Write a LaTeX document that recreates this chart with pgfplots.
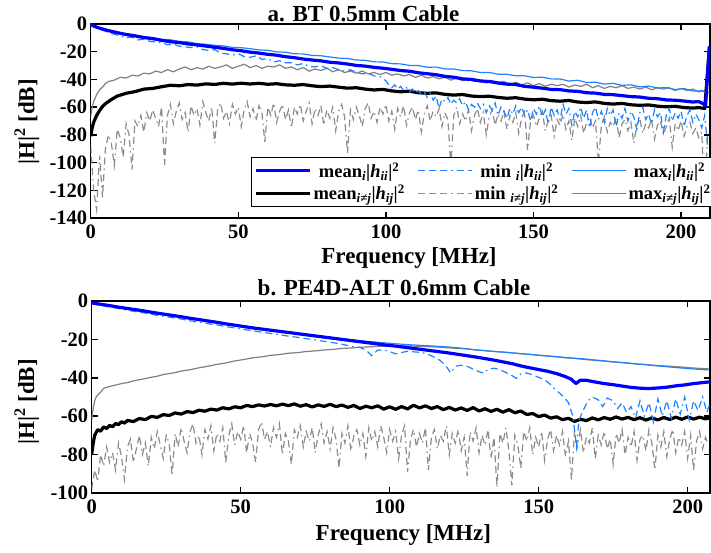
\documentclass[border=0pt]{standalone}
\usepackage{fontspec}
\setmainfont{Liberation Serif}
\usepackage{pgfplots}
\pgfplotsset{compat=1.18}
\definecolor{mblue}{RGB}{0,0,255}
\definecolor{lblue}{RGB}{30,130,255}
\definecolor{mgray}{RGB}{128,128,128}
\definecolor{dgray}{RGB}{140,140,140}
\pgfplotsset{
  meanii/.style={mblue, line width=3.2pt, line join=round, mark=none},
  minii/.style={lblue, line width=1.2pt, mark=none, dash pattern=on 7pt off 4pt on 7pt off 4pt on 7pt off 4pt on 1.5pt off 4pt},
  maxii/.style={lblue, line width=1.2pt, mark=none},
  meanij/.style={black, line width=3.2pt, line join=round, mark=none},
  minij/.style={dgray, line width=1.2pt, mark=none, dash pattern=on 7pt off 4pt on 7pt off 4pt on 7pt off 4pt on 1.5pt off 4pt},
  maxij/.style={mgray, line width=1.2pt, mark=none},
  myax/.style={scale only axis, anchor=south west, xmin=0, ymax=0,
    axis line style={line width=1.5pt}, tick style={black, line width=1.5pt},
    major tick length=6pt, tick align=inside,
    xtick={0,50,100,150,200}, xticklabels={0,50,100,150,200},
    tick label style={font=\bfseries\fontsize{20.5}{24}\selectfont},
    xticklabel shift=3pt,
    label style={font=\bfseries\fontsize{23}{27}\selectfont},
    title style={font=\bfseries\fontsize{23}{27}\selectfont, anchor=center},
    xlabel={Frequency [MHz]},
    ylabel={|H|\textsuperscript{2} [dB]},
    legend image code/.code={\draw[##1] (0pt,0pt) -- (54pt,0pt);},
  }
}
\begin{document}
\begin{tikzpicture}
\useasboundingbox (0,0) rectangle (711pt,552pt);
% ---------------- top axis ----------------
\begin{axis}[myax, at={(90.7pt,334pt)}, width=619.3pt, height=194pt,
  xmax=209.8, ymin=-140,
  ytick={-140,-120,-100,-80,-60,-40,-20,0},
  yticklabels={-140,-120,-100,-80,-60,-40,-20,0},
  title={a. BT 0.5mm Cable},
  title style={at={(axis description cs:0.4405,1.024)}},
  xlabel style={at={(axis description cs:0.514,-0.206)}, anchor=center},
  ylabel style={at={(axis description cs:-0.103,0.495)}, anchor=center},
  legend columns=3,
  legend style={at={(axis description cs:0.2584,0.3144)}, anchor=north west,
    draw=black, line width=1.3pt, fill=white, inner sep=3pt, row sep=2pt,
    font=\bfseries\fontsize{18.5}{21}\selectfont,
    /tikz/every even column/.append style={column sep=11pt}},
]
\addlegendimage{meanii}
\addlegendentry{mean\textsubscript{\textit{i}}|\textit{h}\textsubscript{\textit{ii}}|\textsuperscript{2}}
\addlegendimage{minii}
\addlegendentry{min \textsubscript{\textit{i}}|\textit{h}\textsubscript{\textit{ii}}|\textsuperscript{2}}
\addlegendimage{maxii}
\addlegendentry{max\textsubscript{\textit{i}}|\textit{h}\textsubscript{\textit{ii}}|\textsuperscript{2}}
\addlegendimage{meanij}
\addlegendentry{mean\textsubscript{\textit{i≠j}}|\textit{h}\textsubscript{\textit{ij}}|\textsuperscript{2}}
\addlegendimage{minij}
\addlegendentry{min \textsubscript{\textit{i≠j}}|\textit{h}\textsubscript{\textit{ij}}|\textsuperscript{2}}
\addlegendimage{maxij}
\addlegendentry{max\textsubscript{\textit{i≠j}}|\textit{h}\textsubscript{\textit{ij}}|\textsuperscript{2}}
% min_ij
\addplot[minij, forget plot] coordinates {(0,-88)(1,-120)(2,-134)(3,-95)(4,-125)(5,-90)(6,-80)(7,-86)(8,-102)(9,-76)(10,-82)(11,-96)(12,-72)(13,-80)(14,-105)(15,-70)(16,-74)(17,-66)(18,-78)(19,-64)(20,-70)(21,-62)(22,-68)(23,-74)(24,-60)(25,-102)(26,-66)(27,-58)(28,-72)(29,-63)(30,-57)(31,-69)(32,-64)(33,-78)(34,-59)(35,-66)(36,-61)(37,-73)(38,-56)(39,-64)(40,-70)(41,-60)(42,-86)(43,-62)(44,-57)(45,-68)(46,-63)(47,-72)(48,-58)(49,-65)(50,-60)(51,-74)(52,-62)(53,-56)(54,-67)(55,-61)(56,-70)(57,-59)(58,-64)(59,-85)(60,-60)(61,-66)(62,-57)(63,-71)(64,-63)(65,-58)(66,-69)(67,-62)(68,-75)(69,-60)(70,-65)(71,-58)(72,-70)(73,-63)(74,-57)(75,-72)(76,-61)(77,-66)(78,-59)(79,-73)(80,-62)(81,-68)(82,-60)(83,-77)(84,-63)(85,-58)(86,-67)(87,-93)(88,-62)(89,-69)(90,-60)(91,-66)(92,-74)(93,-61)(94,-57)(95,-68)(96,-63)(97,-71)(98,-60)(99,-65)(100,-58)(101,-70)(102,-63)(103,-76)(104,-61)(105,-67)(106,-59)(107,-73)(108,-64)(109,-60)(110,-69)(111,-62)(112,-78)(113,-65)(114,-59)(115,-70)(116,-63)(117,-67)(118,-61)(119,-74)(120,-64)(121,-69)(122,-102)(123,-66)(124,-60)(125,-72)(126,-65)(127,-70)(128,-62)(129,-77)(130,-66)(131,-61)(132,-71)(133,-64)(134,-80)(135,-67)(136,-62)(137,-73)(138,-65)(139,-70)(140,-63)(141,-76)(142,-66)(143,-71)(144,-64)(145,-79)(146,-68)(147,-63)(148,-91)(149,-70)(150,-66)(151,-74)(152,-68)(153,-63)(154,-77)(155,-70)(156,-66)(157,-81)(158,-69)(159,-73)(160,-65)(161,-76)(162,-70)(163,-84)(164,-68)(165,-74)(166,-66)(167,-79)(168,-71)(169,-67)(170,-75)(171,-70)(172,-100)(173,-73)(174,-67)(175,-78)(176,-71)(177,-74)(178,-68)(179,-82)(180,-72)(181,-69)(182,-77)(183,-71)(184,-86)(185,-73)(186,-68)(187,-79)(188,-72)(189,-75)(190,-69)(191,-83)(192,-73)(193,-70)(194,-80)(195,-74)(196,-68)(197,-89)(198,-72)(199,-77)(200,-70)(201,-81)(202,-74)(203,-71)(204,-79)(205,-75)(206,-82)(207,-78)(208,-125)(209,-80)};
% max_ij
\addplot[maxij, forget plot] coordinates {(0,-67)(0.5,-60)(1,-56)(2,-51)(3,-47.5)(4,-45.5)(5,-43)(6,-41.5)(8,-40.5)(10,-38.5)(12,-39)(14,-37)(16,-37.5)(18,-35.5)(20,-36)(22,-34)(24,-35)(26,-33)(28,-34.5)(30,-32.5)(32,-31)(34,-33)(36,-31.5)(38,-32.5)(40,-30.5)(42,-32)(44,-31)(46,-29.5)(48,-32)(50,-30.5)(52,-29)(54,-31.5)(56,-30)(58,-32)(60,-30.5)(62,-31)(64,-29.5)(66,-32)(68,-31)(70,-33)(72,-31.5)(74,-34)(76,-32.5)(78,-33.5)(80,-32)(82,-34.5)(84,-33)(86,-35)(88,-34)(90,-35.5)(92,-34)(94,-36)(96,-35)(98,-36.5)(100,-35)(102,-37)(104,-36)(106,-37.5)(108,-36.5)(110,-38.5)(112,-37)(114,-39)(116,-38)(118,-39.5)(120,-38.5)(122,-40.5)(124,-39)(126,-41)(128,-40)(130,-41.5)(132,-40.5)(134,-42.5)(136,-41)(138,-42)(140,-41.5)(142,-43.5)(144,-42)(146,-44)(148,-42.5)(150,-44.5)(152,-43)(154,-45)(156,-43.5)(158,-44.5)(160,-43.5)(162,-45.5)(164,-44)(166,-45)(168,-43.5)(170,-46)(172,-44.5)(174,-46.5)(176,-45)(178,-46)(180,-44.5)(182,-46.5)(184,-45.5)(186,-47)(188,-45.5)(190,-47.5)(192,-46)(194,-47)(196,-46)(198,-48)(200,-46.5)(202,-48)(204,-47)(206,-49)(208,-48)(209.6,-50)};
% mean_ij
\addplot[meanij, forget plot] coordinates {(0,-81)(0.5,-75)(1,-71)(2,-66)(3,-62.5)(4,-59.5)(5,-57.5)(7,-54.5)(9,-52)(12,-50)(15,-48.8)(18,-47)(21,-46.5)(24,-45.3)(27,-44.2)(30,-44.6)(33,-43.7)(36,-44.1)(39,-43.2)(42,-43.6)(45,-42.8)(48,-43.4)(51,-42.7)(54,-43.3)(57,-42.8)(60,-43.5)(63,-43.1)(66,-43.9)(69,-44.2)(72,-43.7)(75,-44.6)(78,-45.2)(81,-44.8)(84,-45.6)(87,-46.3)(90,-46)(93,-47)(96,-47.6)(99,-47.2)(102,-48.3)(105,-48.9)(108,-48.5)(111,-49.6)(114,-50)(117,-49.7)(120,-50.8)(123,-51.3)(126,-50.9)(129,-52)(132,-52.4)(135,-52.1)(138,-53)(141,-53.6)(144,-53.2)(147,-54.2)(150,-54.7)(153,-54.3)(156,-55.3)(159,-55.7)(162,-55.2)(165,-56.3)(168,-56.7)(171,-56.2)(174,-57.3)(177,-57.8)(180,-57.3)(183,-58.3)(186,-58.7)(189,-58.4)(192,-59.3)(195,-59.8)(198,-59.4)(201,-60.3)(204,-60.7)(206,-60.3)(208,-61)(209.6,-17)};
% min_ii
\addplot[minii, forget plot] coordinates {(0,-1)(2,-3)(4,-4.5)(6,-6)(8,-7.5)(10,-8.5)(12,-10)(14,-9.5)(16,-11.5)(18,-11)(20,-12.5)(22,-13)(24,-13.5)(26,-15)(28,-14.5)(30,-16)(32,-16.5)(34,-17)(36,-16.5)(38,-18.5)(40,-19)(42,-18.5)(44,-21)(46,-21.5)(48,-22.5)(50,-21.5)(52,-23.5)(54,-24)(56,-23)(58,-25.5)(60,-25)(62,-27.5)(64,-26.5)(66,-28)(68,-28)(70,-29.5)(72,-28.5)(74,-30.5)(76,-31)(78,-30)(80,-32)(82,-31.5)(84,-33)(86,-34)(88,-33)(90,-35)(92,-36)(94,-35.5)(96,-37.5)(98,-38)(100,-41)(101,-44)(102,-46)(103,-44)(104,-47)(105,-45)(106,-48)(107,-46)(108,-49)(109,-47)(110,-50)(111,-48)(112,-51)(113,-49)(114,-53)(115,-50)(116,-55)(117,-52)(118,-61)(119,-54)(120,-56)(121,-53)(122,-58)(123,-55)(124,-57)(125,-54)(126,-59)(127,-56)(128,-62)(129,-58)(130,-60)(131,-57)(132,-61)(133,-58)(134,-64)(135,-59)(136,-62)(137,-57)(138,-66)(139,-60)(140,-63)(141,-68)(142,-61)(143,-65)(144,-59)(145,-64)(146,-60)(147,-66)(148,-62)(149,-70)(150,-61)(151,-65)(152,-59)(153,-67)(154,-62)(155,-72)(156,-60)(157,-66)(158,-62)(159,-69)(160,-58)(161,-65)(162,-61)(163,-73)(164,-63)(165,-67)(166,-60)(167,-68)(168,-62)(169,-75)(170,-64)(171,-60)(172,-69)(173,-63)(174,-71)(175,-61)(176,-66)(177,-62)(178,-74)(179,-64)(180,-68)(181,-61)(182,-70)(183,-63)(184,-67)(185,-76)(186,-64)(187,-60)(188,-69)(189,-65)(190,-72)(191,-62)(192,-67)(193,-64)(194,-78)(195,-66)(196,-61)(197,-70)(198,-64)(199,-68)(200,-63)(201,-74)(202,-66)(203,-62)(204,-71)(205,-65)(206,-69)(207,-75)(208,-66)(209,-88)};
% max_ii
\addplot[maxii, forget plot] coordinates {(0,0)(1,-1.2)(3,-2.6)(6,-4.3)(9,-5.8)(12,-7)(15,-7.9)(18,-9.1)(21,-9.8)(24,-11)(27,-11.4)(30,-12.6)(33,-12.9)(36,-14.2)(39,-14.6)(42,-15.4)(45,-15.8)(48,-16.9)(51,-17.1)(54,-17.8)(57,-18.7)(60,-19)(63,-20.1)(66,-20.4)(69,-21.5)(72,-21.6)(75,-22.7)(78,-22.9)(81,-23.8)(84,-24.6)(87,-24.9)(90,-26)(93,-26.2)(96,-27.3)(99,-27.4)(102,-28.6)(105,-28.8)(108,-29.9)(111,-30)(114,-31.2)(117,-31.1)(120,-32.4)(123,-32.5)(126,-33.6)(129,-33.8)(132,-35)(135,-35)(138,-36.2)(141,-36.3)(144,-37.4)(147,-37.4)(150,-38.6)(153,-38.4)(156,-39.6)(159,-39.7)(162,-41.2)(165,-40.6)(168,-42.2)(171,-42)(174,-43.4)(177,-42.8)(180,-44.3)(183,-43.9)(186,-45.4)(189,-44.8)(192,-46.2)(195,-45.9)(198,-47.3)(201,-46.6)(204,-48.4)(207,-48.2)(209,-49.5)};
% mean_ii
\addplot[meanii, forget plot] coordinates {(0,0)(1,-1.5)(3,-3)(6,-4.8)(9,-6.3)(12,-7.6)(15,-8.6)(18,-9.8)(21,-10.6)(24,-11.8)(27,-12.8)(30,-13.4)(33,-14.4)(36,-15.1)(39,-15.9)(42,-16.8)(45,-17.6)(48,-18.6)(51,-19.3)(54,-20.3)(57,-21)(60,-21.9)(63,-22.5)(66,-23.6)(69,-24.3)(72,-25.3)(75,-26)(78,-26.6)(81,-27.6)(84,-28.1)(87,-28.9)(90,-29.9)(93,-30.4)(96,-31.3)(99,-31.9)(102,-32.7)(105,-33.6)(108,-34.1)(111,-35.2)(114,-35.9)(117,-36.6)(120,-37.8)(123,-38.4)(126,-39.6)(129,-40)(132,-41.1)(135,-41.5)(138,-42.6)(141,-43.4)(144,-43.7)(147,-45)(150,-45.6)(153,-46.3)(156,-47.2)(159,-47.4)(162,-48.3)(165,-48.6)(168,-49.6)(171,-49.9)(174,-50.8)(177,-51)(180,-51.7)(183,-52.4)(186,-52.7)(189,-53.6)(192,-53.9)(195,-54.8)(198,-55)(201,-55.6)(204,-56.3)(206,-56)(207.5,-57.5)(208.3,-59)(209.6,-16)};
\end{axis}
% ---------------- bottom axis ----------------
\begin{axis}[myax, at={(91.7pt,59pt)}, width=618.3pt, height=192pt,
  xmax=207.5, ymin=-100,
  ytick={-100,-80,-60,-40,-20,0},
  yticklabels={-100,-80,-60,-40,-20,0},
  title={b. PE4D-ALT 0.6mm Cable},
  title style={at={(axis description cs:0.489,1.038)}},
  xlabel style={at={(axis description cs:0.504,-0.219)}, anchor=center},
  ylabel style={at={(axis description cs:-0.105,0.474)}, anchor=center},
]
% min_ij
\addplot[minij] coordinates {(0,-98)(1,-88)(2,-94)(3,-80)(4,-86)(5,-76)(6,-84)(7,-79)(8,-88)(9,-74)(10,-81)(11,-93)(12,-76)(13,-72)(14,-84)(15,-77)(16,-70)(17,-80)(18,-74)(19,-86)(20,-71)(21,-77)(22,-68)(23,-75)(24,-82)(25,-70)(26,-74)(27,-91)(28,-69)(29,-76)(30,-66)(31,-73)(32,-79)(33,-68)(34,-64)(35,-74)(36,-70)(37,-80)(38,-67)(39,-72)(40,-65)(41,-78)(42,-69)(43,-73)(44,-66)(45,-84)(46,-70)(47,-64)(48,-75)(49,-68)(50,-72)(51,-65)(52,-79)(53,-69)(54,-74)(55,-84)(56,-67)(57,-63)(58,-72)(59,-68)(60,-76)(61,-66)(62,-71)(63,-64)(64,-80)(65,-69)(66,-73)(67,-85)(68,-67)(69,-71)(70,-65)(71,-76)(72,-68)(73,-73)(74,-66)(75,-79)(76,-70)(77,-64)(78,-74)(79,-68)(80,-77)(81,-66)(82,-72)(83,-87)(84,-69)(85,-74)(86,-65)(87,-78)(88,-70)(89,-67)(90,-75)(91,-69)(92,-81)(93,-66)(94,-73)(95,-68)(96,-76)(97,-65)(98,-71)(99,-79)(100,-67)(101,-73)(102,-68)(103,-82)(104,-70)(105,-65)(106,-89)(107,-72)(108,-67)(109,-76)(110,-69)(111,-74)(112,-66)(113,-88)(114,-71)(115,-67)(116,-77)(117,-70)(118,-73)(119,-65)(120,-80)(121,-69)(122,-74)(123,-67)(124,-78)(125,-71)(126,-91)(127,-68)(128,-73)(129,-66)(130,-79)(131,-70)(132,-75)(133,-67)(134,-82)(135,-71)(136,-97)(137,-69)(138,-74)(139,-66)(140,-78)(141,-96)(142,-70)(143,-75)(144,-87)(145,-68)(146,-73)(147,-66)(148,-80)(149,-71)(150,-76)(151,-68)(152,-83)(153,-72)(154,-67)(155,-78)(156,-70)(157,-75)(158,-68)(159,-81)(160,-73)(161,-93)(162,-69)(163,-76)(164,-67)(165,-79)(166,-71)(167,-74)(168,-66)(169,-82)(170,-70)(171,-75)(172,-68)(173,-77)(174,-72)(175,-85)(176,-69)(177,-74)(178,-67)(179,-80)(180,-71)(181,-76)(182,-68)(183,-83)(184,-72)(185,-70)(186,-78)(187,-67)(188,-74)(189,-88)(190,-70)(191,-76)(192,-68)(193,-81)(194,-72)(195,-67)(196,-79)(197,-71)(198,-75)(199,-68)(200,-82)(201,-70)(202,-88)(203,-73)(204,-68)(205,-77)(206,-71)(207,-75)};
% max_ij
\addplot[maxij] coordinates {(0,-62)(0.5,-56)(1,-52)(1.5,-50)(2,-49)(3,-47.5)(4,-45.5)(6,-44.5)(8,-43.8)(10,-43)(12,-42.5)(14,-41.6)(16,-41)(18,-40.4)(20,-39.7)(22,-39.2)(24,-38.3)(26,-37.8)(28,-37.3)(30,-36.5)(33,-35.8)(36,-34.8)(39,-34)(42,-33)(45,-32.3)(48,-31.2)(51,-30.5)(54,-29.6)(57,-29.1)(60,-28.3)(63,-27.9)(66,-27.2)(69,-26.9)(72,-26.3)(75,-26)(78,-25.5)(81,-25.2)(84,-24.7)(87,-24.5)(90,-24.1)(93,-23.9)(96,-23.6)(99,-23.5)(102,-23.3)(105,-23.4)(108,-23.5)(111,-23.7)(114,-23.8)(117,-24.1)(120,-24.4)(123,-24.7)(126,-25)(129,-25.5)(132,-25.8)(135,-26.3)(138,-26.6)(141,-27)(144,-27.5)(147,-27.8)(150,-28.3)(153,-28.7)(156,-29.1)(159,-29.6)(162,-29.9)(165,-30.4)(168,-30.8)(171,-31.2)(174,-31.6)(177,-32)(180,-32.4)(183,-32.8)(186,-33.1)(189,-33.5)(192,-33.8)(195,-34.1)(198,-34.4)(201,-34.8)(204,-35.1)(207,-35.3)};
% mean_ij
\addplot[meanij] coordinates {(0,-80)(0.5,-74)(1,-70)(1.5,-68.5)(2,-67)(3,-67.8)(4,-65.6)(5,-66.4)(6,-64.8)(7,-65.5)(8,-63.8)(9,-64.4)(10,-62.9)(11,-63.6)(12,-62.2)(14,-62.8)(16,-61.2)(18,-61.8)(20,-60.1)(22,-60.6)(24,-59.2)(26,-59.6)(28,-58.3)(30,-58.9)(32,-57.6)(34,-58.1)(36,-56.9)(38,-57.4)(40,-56.3)(42,-56.8)(44,-55.6)(46,-56.2)(48,-55.1)(50,-55.6)(52,-54.4)(54,-55)(56,-54.1)(58,-54.7)(60,-53.9)(62,-54.6)(64,-53.7)(66,-54.5)(68,-53.6)(70,-54.8)(72,-54)(74,-55.2)(76,-54.1)(78,-54.9)(80,-53.8)(82,-55)(84,-54.2)(86,-55.4)(88,-54.4)(90,-56)(92,-54.8)(94,-55.6)(96,-54.6)(98,-56.3)(100,-55.1)(102,-56.4)(104,-55)(106,-56.2)(108,-54.3)(110,-55.7)(112,-54.6)(114,-56)(116,-55)(118,-56.6)(120,-55.4)(122,-56.8)(124,-55.7)(126,-57)(128,-55.5)(130,-57.3)(132,-56.1)(134,-57.5)(136,-56.4)(138,-57.9)(140,-56.6)(142,-58.2)(144,-57.3)(146,-59.1)(148,-58.6)(150,-60.2)(152,-59.4)(154,-61)(156,-60.3)(158,-61.8)(160,-61.1)(162,-62.7)(164,-61.6)(166,-62.3)(168,-60.9)(170,-61.9)(172,-60.7)(174,-61.6)(176,-60.4)(178,-61.5)(180,-60.6)(182,-61.8)(184,-60.8)(186,-62)(188,-60.9)(190,-61.9)(192,-60.7)(194,-61.7)(196,-60.5)(198,-61.6)(200,-60.4)(202,-61.5)(204,-60.5)(206,-61.4)(207.5,-60.8)};
% min_ii
\addplot[minii] coordinates {(0,-1.5)(3,-2.3)(6,-3.1)(9,-3.9)(12,-4.8)(15,-5.6)(18,-6.3)(21,-7.2)(24,-7.9)(27,-8.7)(30,-9.4)(33,-10.3)(36,-11)(39,-11.8)(42,-12.5)(45,-13.3)(48,-14)(51,-14.8)(54,-15.5)(57,-16.2)(60,-16.9)(63,-17.6)(66,-18.3)(69,-18.9)(72,-19.6)(75,-20.3)(78,-21)(81,-21.7)(84,-22.5)(87,-23.6)(90,-24.2)(92,-25.5)(94,-28.5)(96,-25.5)(99,-25.8)(102,-27.5)(104,-26.8)(106,-26.2)(109,-26.6)(111,-26.8)(114,-28.5)(117,-31)(119,-34)(120.5,-37.5)(122,-34)(124,-33.5)(126,-34)(128,-35.5)(130,-36.8)(131.6,-37.7)(133,-35.5)(135,-35)(137,-35.8)(139,-37.2)(141,-38.8)(142.5,-40.3)(144,-38)(146,-37.5)(148,-38.5)(150,-39.8)(152,-41)(154,-43.5)(155.5,-46)(157,-48)(158.5,-50)(160,-53)(161.5,-60)(162.7,-76)(163.5,-62)(165,-56.8)(166.5,-52)(168,-50)(170,-51.5)(171.5,-55)(173,-50.5)(175,-52)(176.5,-56)(178,-53)(179.5,-58)(181,-55)(182.5,-61)(184,-52)(185.5,-60)(187,-53)(188.5,-63)(190,-51)(191.5,-60)(193,-52)(194.5,-61)(196,-51)(197.5,-59)(199,-50)(200.5,-62)(202,-52)(203.5,-57)(205,-50)(206.5,-58)(207.5,-53)};
% max_ii
\addplot[maxii] coordinates {(0,-0.8)(3,-1.5)(6,-2.2)(9,-2.9)(12,-3.6)(15,-4.3)(18,-5)(21,-5.8)(24,-6.5)(27,-7.2)(30,-7.9)(33,-8.7)(36,-9.4)(39,-10.1)(42,-10.8)(45,-11.6)(48,-12.3)(51,-13)(54,-13.7)(57,-14.3)(60,-14.9)(63,-15.5)(66,-16.1)(69,-16.7)(72,-17.3)(75,-17.9)(78,-18.5)(81,-19.1)(84,-19.7)(87,-20.2)(90,-20.7)(93,-21.1)(96,-21.5)(99,-21.9)(102,-22.3)(105,-22.6)(108,-22.9)(111,-23.2)(114,-23.4)(117,-23.7)(120,-24)(123,-24.4)(126,-24.9)(129,-25.5)(132,-25.9)(135,-26.3)(138,-26.6)(141,-27)(144,-27.4)(147,-27.8)(150,-28.2)(153,-28.6)(156,-29)(159,-29.4)(162,-29.8)(165,-30.1)(168,-30.6)(171,-31)(174,-31.5)(177,-31.9)(180,-32.3)(183,-32.8)(186,-33.2)(189,-33.7)(192,-34.1)(195,-34.5)(198,-34.9)(201,-35.3)(204,-35.6)(207,-35.9)};
% mean_ii
\addplot[meanii] coordinates {(0,-1)(3,-1.7)(6,-2.4)(9,-3.2)(12,-3.9)(15,-4.6)(18,-5.3)(21,-6.1)(24,-6.8)(27,-7.5)(30,-8.2)(33,-9)(36,-9.7)(39,-10.4)(42,-11.1)(45,-11.9)(48,-12.6)(51,-13.3)(54,-14)(57,-14.6)(60,-15.2)(63,-15.8)(66,-16.4)(69,-17)(72,-17.6)(75,-18.2)(78,-18.8)(81,-19.4)(84,-20)(87,-20.6)(90,-21.2)(93,-21.8)(96,-22.4)(99,-23)(102,-23.5)(105,-24.1)(108,-24.7)(111,-25.3)(114,-25.9)(117,-26.5)(120,-27.1)(123,-27.8)(126,-28.5)(129,-29.2)(132,-30)(135,-30.8)(138,-31.7)(141,-32.6)(144,-33.8)(147,-34.8)(150,-35.7)(153,-36.6)(156,-37.8)(159,-39.4)(161,-40.8)(162.5,-43)(164,-41.2)(166,-41.3)(169,-42.2)(172,-43)(175,-43.6)(178,-44.3)(181,-45)(184,-45.4)(187,-45.6)(190,-45.3)(193,-44.9)(196,-44.2)(199,-43.7)(202,-43)(205,-42.5)(207.5,-42.1)};
\end{axis}
\end{tikzpicture}
\end{document}
